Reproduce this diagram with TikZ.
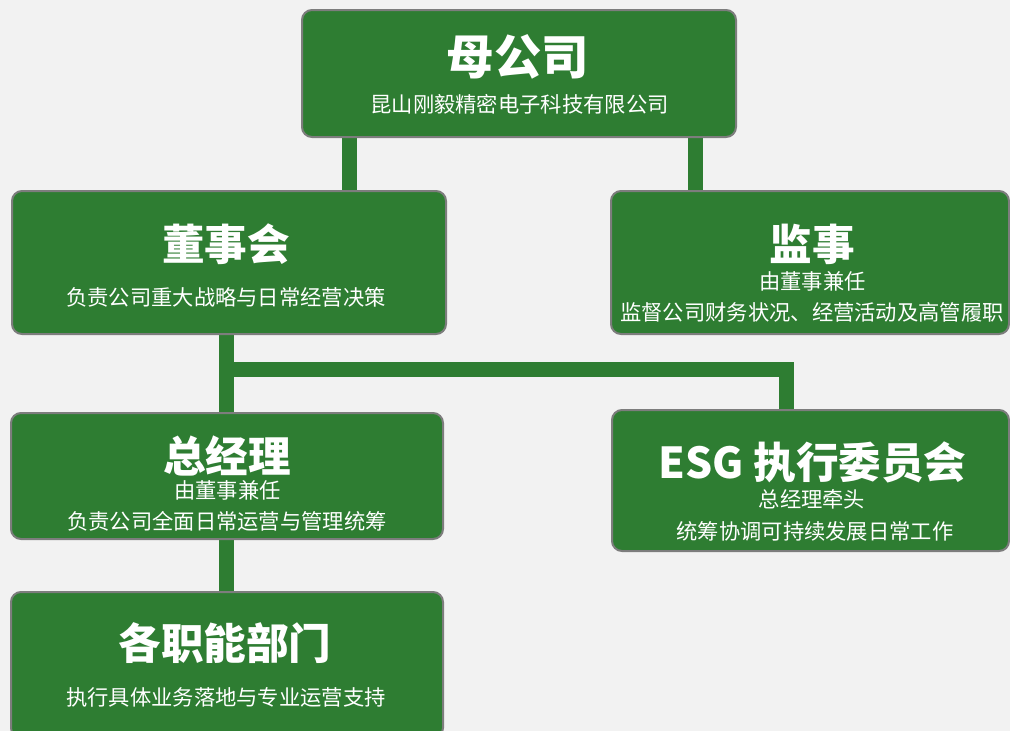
\documentclass[tikz,border=0pt]{standalone}
\usepackage{fontspec}
\newfontfamily\cjk{Noto Sans CJK SC}
\usetikzlibrary{positioning}

\definecolor{orggreen}{RGB}{46,125,50}
\definecolor{orggray}{RGB}{125,125,125}
\definecolor{paper}{RGB}{242,242,242}

\pgfdeclarelayer{back}
\pgfsetlayers{back,main}

\tikzset{
  orgbox/.style={draw=orggray, line width=2pt, fill=orggreen, rounded corners=10pt, inner sep=0pt},
  link/.style={draw=orggreen, line width=15pt},
  headline/.style={text=white, inner sep=0pt, font=\cjk\bfseries\fontsize{42.6}{46}\selectfont},
  duty/.style={text=white, inner sep=0pt, font=\cjk\fontsize{21.3}{24}\selectfont},
}

\begin{document}
\begin{tikzpicture}[x=1pt,y=-1pt]

	\useasboundingbox (0,0) rectangle (1010,731);
	
	% boxes
	\node[orgbox, minimum width=434pt, minimum height=127pt] (parent) at (519,73.5) {};
	\node[orgbox, minimum width=434pt, minimum height=143pt] (board) at (229,262.5) {};
	\node[orgbox, minimum width=398pt, minimum height=143pt] (supervisor) at (810,262.5) {};
	\node[orgbox, minimum width=432pt, minimum height=126pt] (manager) at (227,476) {};
	\node[orgbox, minimum width=397pt, minimum height=141pt] (esg) at (810.5,480.5) {};
	\node[orgbox, minimum width=432pt, minimum height=146pt] (depts) at (227,665) {};
	
	% texts
	\node[headline, font=\cjk\bfseries\fontsize{47.4}{50}\selectfont] (parentT) at (518,57) {母公司};
	\node[duty] (parentD) at (519.5,104) {昆山刚毅精密电子科技有限公司};
	
	\node[headline] (boardT) at (226,244) {董事会};
	\node[duty] (boardD) at (226,297) {负责公司重大战略与日常经营决策};
	
	\node[headline] (supervisorT) at (812,244) {监事};
	\node[duty] (supervisorN) at (812.5,281) {由董事兼任};
	\node[duty] (supervisorD) at (812,312.5) {监督公司财务状况、经营活动及高管履职};
	
	\node[headline] (managerT) at (227,456) {总经理};
	\node[duty] (managerN) at (227.5,490.5) {由董事兼任};
	\node[duty] (managerD) at (227,521.5) {负责公司全面日常运营与管理统筹};
	
	\node[headline] (esgT) at (812.5,462.5) {ESG 执行委员会};
	\node[duty] (esgN) at (812,499) {总经理牵头};
	\node[duty] (esgD) at (815,531) {统筹协调可持续发展日常工作};
	
	\node[headline] (deptsT) at (225,643) {各职能部门};
	\node[duty] (deptsD) at (226,697) {执行具体业务落地与专业运营支持};
	
	% connectors behind the boxes
	\begin{pgfonlayer}{back}
		\fill[paper] (0,0) rectangle (1010,731);
		
		\coordinate (pl) at ([xshift=-170pt]parent.south);
		\coordinate (pr) at ([xshift=176pt]parent.south);
		\coordinate (trunk) at ([xshift=-2.5pt]board.south);
		\coordinate (split) at (trunk |- 0,369);
		\coordinate (esgin) at ([xshift=-24.5pt]esg.north);
		
		\draw[link] (pl) -- (pl |- board.north);
		\draw[link] (pr) -- (pr |- supervisor.north);
		\draw[link] (trunk) -- (trunk |- manager.north);
		\draw[link] (split) -| (esgin);
		\draw[link] (trunk |- manager.south) -- (trunk |- depts.north);
	\end{pgfonlayer}
	
\end{tikzpicture}
\end{document}
